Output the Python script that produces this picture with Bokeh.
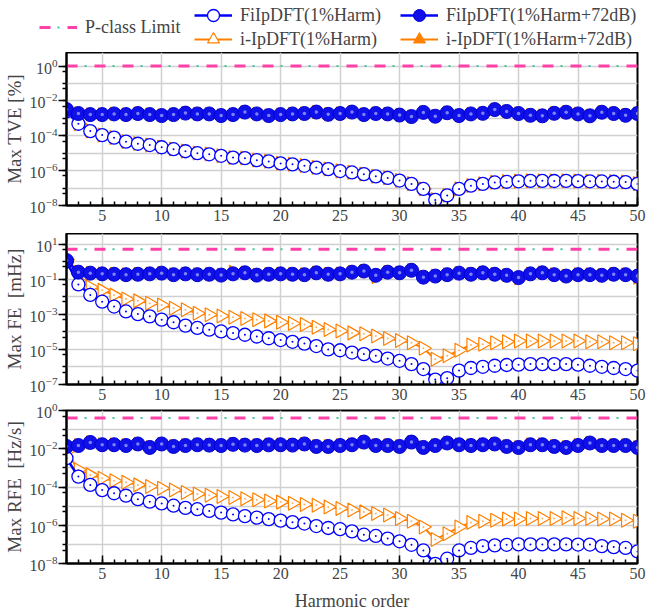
import math
from bokeh.plotting import figure
from bokeh.layouts import column
from bokeh.models import Range1d, FixedTicker, SingleIntervalTicker, Legend, LegendItem
from bokeh.embed import file_html
from bokeh.resources import INLINE

harmonics = list(range(2, 51))

# ---- Panel 1: Max TVE [%] ----
tve_fi = [2.5e-3, 4.9e-4, 1.86e-4, 1.1e-4, 7.8e-5, 4.6e-5, 3.5e-5, 2.95e-5, 2.2e-5, 1.7e-5,
          1.3e-5, 1.0e-5, 8.7e-6, 7.1e-6, 5.6e-6, 5.2e-6, 4.0e-6, 3.4e-6, 2.6e-6, 2.3e-6,
          1.9e-6, 1.5e-6, 1.23e-6, 9.5e-7, 7.9e-7, 6.3e-7, 4.7e-7, 3.8e-7, 2.7e-7, 1.74e-7,
          8.9e-8, 2.1e-8, 3.8e-8, 8.9e-8, 1.38e-7, 1.74e-7, 2.1e-7, 2.3e-7, 2.45e-7, 2.6e-7,
          2.6e-7, 2.55e-7, 2.6e-7, 2.5e-7, 2.45e-7, 2.4e-7, 2.3e-7, 2.2e-7, 1.74e-7]
tve_ip = [2.6e-3, 5.0e-4, 1.9e-4, 1.12e-4, 7.9e-5, 4.7e-5, 3.6e-5, 3.0e-5, 2.25e-5, 1.75e-5,
          1.32e-5, 1.02e-5, 8.9e-6, 7.2e-6, 5.7e-6, 5.3e-6, 4.1e-6, 3.5e-6, 2.65e-6, 2.35e-6,
          1.95e-6, 1.55e-6, 1.25e-6, 9.7e-7, 8.1e-7, 6.4e-7, 4.8e-7, 3.9e-7, 2.75e-7, 1.8e-7,
          9.1e-8, 2.2e-8, 3.9e-8, 9.1e-8, 1.4e-7, 1.78e-7, 2.15e-7, 2.35e-7, 2.5e-7, 2.65e-7,
          2.65e-7, 2.6e-7, 2.65e-7, 2.55e-7, 2.5e-7, 2.45e-7, 2.35e-7, 2.25e-7, 1.8e-7]
tve_fi72 = [3.2e-3, 1.9e-3, 1.65e-3, 1.65e-3, 1.8e-3, 1.65e-3, 1.9e-3, 1.65e-3, 1.45e-3, 1.65e-3,
            2.0e-3, 1.8e-3, 1.8e-3, 1.45e-3, 1.65e-3, 2.3e-3, 1.8e-3, 1.45e-3, 1.65e-3, 1.8e-3,
            1.9e-3, 2.3e-3, 1.7e-3, 1.9e-3, 2.3e-3, 1.65e-3, 1.9e-3, 1.8e-3, 1.55e-3, 1.27e-3,
            2.2e-3, 1.33e-3, 2.1e-3, 1.45e-3, 1.8e-3, 1.95e-3, 3.2e-3, 2.5e-3, 1.9e-3, 1.5e-3,
            1.4e-3, 1.95e-3, 2.25e-3, 1.8e-3, 1.4e-3, 2.25e-3, 1.9e-3, 1.5e-3, 1.9e-3]
tve_ip72 = [3.3e-3, 1.95e-3, 1.7e-3, 1.7e-3, 1.85e-3, 1.7e-3, 1.95e-3, 1.7e-3, 1.5e-3, 1.7e-3,
            2.05e-3, 1.85e-3, 1.85e-3, 1.5e-3, 1.7e-3, 2.35e-3, 1.85e-3, 1.5e-3, 1.7e-3, 1.85e-3,
            1.95e-3, 2.35e-3, 1.75e-3, 1.95e-3, 2.35e-3, 1.7e-3, 1.95e-3, 1.85e-3, 1.6e-3, 1.3e-3,
            2.25e-3, 1.38e-3, 2.15e-3, 1.5e-3, 1.85e-3, 2.0e-3, 3.3e-3, 2.55e-3, 1.95e-3, 1.55e-3,
            1.45e-3, 2.0e-3, 2.3e-3, 1.85e-3, 1.45e-3, 2.3e-3, 1.95e-3, 1.55e-3, 1.95e-3]

# ---- Panel 2: Max FE [mHz] ----
fe_fi = [1.0, 5.0e-2, 1.26e-2, 5.2e-3, 2.75e-3, 1.45e-3, 1.02e-3, 7.6e-4, 4.9e-4, 3.5e-4,
         2.24e-4, 1.66e-4, 1.32e-4, 1.05e-4, 8.5e-5, 6.8e-5, 5.4e-5, 4.3e-5, 3.4e-5, 2.7e-5,
         2.14e-5, 1.55e-5, 1.0e-5, 8.9e-6, 6.6e-6, 5.4e-6, 4.3e-6, 3.0e-6, 2.24e-6, 1.45e-6,
         7.6e-7, 1.9e-7, 2.3e-7, 6.2e-7, 8.7e-7, 1.02e-6, 1.17e-6, 1.29e-6, 1.35e-6, 1.45e-6,
         1.45e-6, 1.45e-6, 1.45e-6, 1.35e-6, 1.17e-6, 1.02e-6, 8.7e-7, 7.6e-7, 6.2e-7]
fe_ip = [1.3, 8.0e-2, 3.6e-2, 2.3e-2, 1.23e-2, 7.4e-3, 5.8e-3, 4.3e-3, 3.4e-3, 2.2e-3,
         1.8e-3, 1.15e-3, 9.5e-4, 7.9e-4, 6.8e-4, 5.8e-4, 4.9e-4, 4.2e-4, 3.5e-4, 3.0e-4,
         2.6e-4, 1.82e-4, 1.35e-4, 1.1e-4, 8.7e-5, 7.8e-5, 5.8e-5, 4.2e-5, 3.2e-5, 2.4e-5,
         1.15e-5, 2.75e-6, 4.3e-6, 8.9e-6, 1.78e-5, 1.95e-5, 2.4e-5, 2.75e-5, 3.0e-5, 3.0e-5,
         3.0e-5, 3.0e-5, 3.0e-5, 3.0e-5, 2.75e-5, 2.75e-5, 2.4e-5, 2.4e-5, 2.1e-5]
fe_fi72 = [1.15, 0.25, 0.22, 0.2, 0.19, 0.18, 0.19, 0.2, 0.22, 0.18,
           0.2, 0.18, 0.19, 0.17, 0.2, 0.23, 0.17, 0.19, 0.2, 0.19,
           0.18, 0.23, 0.19, 0.2, 0.25, 0.29, 0.166, 0.25, 0.23, 0.32,
           0.13, 0.15, 0.18, 0.22, 0.19, 0.23, 0.19, 0.166, 0.123, 0.2,
           0.23, 0.18, 0.15, 0.18, 0.18, 0.166, 0.19, 0.18, 0.15]
fe_ip72 = [1.4, 0.27, 0.23, 0.21, 0.2, 0.19, 0.2, 0.21, 0.23, 0.19,
           0.21, 0.19, 0.2, 0.18, 0.27, 0.24, 0.18, 0.2, 0.21, 0.2,
           0.19, 0.24, 0.2, 0.21, 0.26, 0.3, 0.13, 0.26, 0.24, 0.33,
           0.14, 0.16, 0.19, 0.23, 0.2, 0.24, 0.2, 0.17, 0.11, 0.21,
           0.24, 0.19, 0.16, 0.19, 0.19, 0.17, 0.2, 0.19, 0.12]

# ---- Panel 3: Max RFE [Hz/s] ----
rfe_fi = [3.2e-3, 3.5e-4, 1.29e-4, 6.9e-5, 4.7e-5, 3.5e-5, 2.3e-5, 1.7e-5, 1.38e-5, 1.05e-5,
          8.1e-6, 6.9e-6, 5.6e-6, 4.6e-6, 3.7e-6, 3.0e-6, 2.5e-6, 2.1e-6, 1.74e-6, 1.45e-6,
          1.23e-6, 9.1e-7, 7.2e-7, 6.2e-7, 4.8e-7, 3.2e-7, 2.75e-7, 2.0e-7, 1.45e-7, 9.5e-8,
          4.8e-8, 9.5e-9, 1.78e-8, 4.8e-8, 6.5e-8, 8.1e-8, 8.9e-8, 9.5e-8, 1.0e-7, 1.0e-7,
          1.0e-7, 1.0e-7, 1.0e-7, 9.8e-8, 9.8e-8, 8.1e-8, 7.2e-8, 6.5e-8, 4.3e-8]
rfe_ip = [7.2e-3, 7.9e-4, 4.3e-4, 2.9e-4, 2.1e-4, 1.78e-4, 1.29e-4, 1.05e-4, 8.5e-5, 6.9e-5,
          5.2e-5, 4.3e-5, 3.7e-5, 3.2e-5, 2.8e-5, 2.45e-5, 2.14e-5, 1.86e-5, 1.62e-5, 1.41e-5,
          1.23e-5, 1.12e-5, 9.1e-6, 7.6e-6, 6.2e-6, 5.0e-6, 4.1e-6, 3.4e-6, 2.24e-6, 1.62e-6,
          8.1e-7, 1.82e-7, 3.6e-7, 8.1e-7, 1.38e-6, 1.62e-6, 1.82e-6, 2.1e-6, 2.1e-6, 2.24e-6,
          2.24e-6, 2.24e-6, 2.45e-6, 2.24e-6, 2.24e-6, 2.1e-6, 2.1e-6, 1.82e-6, 1.62e-6]
rfe_fi72 = [1.32e-2, 1.48e-2, 2.14e-2, 1.62e-2, 1.62e-2, 1.48e-2, 1.78e-2, 1.17e-2, 1.78e-2, 1.32e-2,
            1.48e-2, 1.62e-2, 1.55e-2, 1.48e-2, 1.7e-2, 1.55e-2, 1.48e-2, 1.6e-2, 1.62e-2, 1.55e-2,
            1.78e-2, 1.32e-2, 1.32e-2, 1.48e-2, 1.62e-2, 2.24e-2, 1.48e-2, 1.48e-2, 1.32e-2, 2.24e-2,
            1.17e-2, 1.48e-2, 2.0e-2, 1.62e-2, 1.48e-2, 1.62e-2, 1.78e-2, 1.32e-2, 1.17e-2, 1.62e-2,
            1.62e-2, 1.32e-2, 1.17e-2, 1.48e-2, 2.0e-2, 1.48e-2, 1.48e-2, 1.48e-2, 1.17e-2]
rfe_ip72 = [1.4e-2, 1.55e-2, 2.2e-2, 1.7e-2, 1.7e-2, 1.55e-2, 1.85e-2, 1.22e-2, 1.85e-2, 1.38e-2,
            1.55e-2, 1.7e-2, 1.62e-2, 1.55e-2, 1.78e-2, 1.62e-2, 1.55e-2, 1.68e-2, 1.7e-2, 1.62e-2,
            1.85e-2, 1.38e-2, 1.38e-2, 1.55e-2, 1.7e-2, 2.3e-2, 1.55e-2, 1.55e-2, 1.38e-2, 2.3e-2,
            1.22e-2, 1.55e-2, 2.1e-2, 1.7e-2, 1.55e-2, 1.7e-2, 1.85e-2, 1.38e-2, 1.22e-2, 1.7e-2,
            1.7e-2, 1.38e-2, 1.22e-2, 1.55e-2, 2.1e-2, 1.55e-2, 1.55e-2, 1.55e-2, 1.22e-2]

# P-class limits
tve_limit = 1.0
fe_limit = 5.0
rfe_limit = 0.4

y_labels = ["Max TVE [%]", "Max FE \u00a0[mHz]", "Max RFE \u00a0[Hz/s]"]
x_label = "Harmonic order"
legend_labels = ["P-class Limit", "FiIpDFT(1%Harm)", "i-IpDFT(1%Harm)",
                 "FiIpDFT(1%Harm+72dB)", "i-IpDFT(1%Harm+72dB)"]

BLUE = "#0000ff"
ORANGE = "#ff8000"
PINK = "#ff40a8"
TEAL = "#3cc8a0"
SPHERE = "#1010e8"
HILITE = "#8890ff"
FONT = "Liberation Serif"
W = 646
LEFT = 65
RIGHT = 9


def draw_series(p, xs, fi, ip, fi72, ip72, limit_x, limit_y):
    r = {}
    r["pink"] = p.line(limit_x, limit_y, line_color=PINK, line_width=3, line_dash="11 17")
    r["teal"] = p.line(limit_x, limit_y, line_color=TEAL, line_width=2,
                       line_dash="2 26", line_dash_offset=-18)
    # i-IpDFT (1%Harm)
    r["lo1"] = p.line(xs, ip, line_color=ORANGE, line_width=2)
    r["mo1"] = p.scatter(xs, ip, marker="triangle", size=14, angle=-math.pi / 2,
                         fill_color="white", line_color=ORANGE, line_width=1.2)
    r["do1"] = p.scatter(xs, ip, marker="circle", size=2, fill_color="#ffb060", line_color=None)
    # i-IpDFT (1%Harm+72dB)
    r["lo2"] = p.line(xs, ip72, line_color=ORANGE, line_width=2)
    r["mo2"] = p.scatter(xs, ip72, marker="triangle", size=13, angle=-math.pi / 2,
                         fill_color=ORANGE, line_color=ORANGE, line_width=1)
    # FiIpDFT (1%Harm)
    r["lb1"] = p.line(xs, fi, line_color=BLUE, line_width=2.5)
    r["mb1"] = p.scatter(xs, fi, marker="circle", size=13, fill_color="white",
                         line_color=BLUE, line_width=1.3)
    r["db1"] = p.scatter(xs, fi, marker="circle", size=2, fill_color=BLUE, line_color=None)
    # FiIpDFT (1%Harm+72dB)
    r["lb2"] = p.line(xs, fi72, line_color=BLUE, line_width=2.5)
    r["mb2"] = p.scatter(xs, fi72, marker="circle", size=14, fill_color=SPHERE,
                         line_color="#0000d0", line_width=1)
    r["hb2"] = p.scatter(xs, fi72, marker="circle", size=3.5, fill_color=HILITE,
                         line_color=None, fill_alpha=0.9)
    return r


def make_panel(ylabel, ylo_exp, yhi, major_exps, fi, ip, fi72, ip72, limit,
               height, top, bottom, show_xlabel=False):
    p = figure(width=W, height=height,
               x_range=Range1d(harmonics[0], harmonics[-1]),
               y_range=Range1d(10.0 ** ylo_exp, yhi), y_axis_type="log",
               toolbar_location=None, output_backend="svg",
               min_border_left=LEFT, min_border_right=RIGHT,
               min_border_top=top, min_border_bottom=bottom)
    p.border_fill_alpha = 0
    p.background_fill_color = "white"
    p.outline_line_color = "black"
    p.outline_line_width = 2
    p.outline_line_alpha = 1

    decades = [10.0 ** e for e in range(ylo_exp, int(math.floor(math.log10(yhi))) + 1)]
    minors = decades + [0.5 * d for d in decades]

    ya = p.yaxis[0]
    ya.ticker = FixedTicker(ticks=[10.0 ** e for e in major_exps], minor_ticks=minors)
    ya.major_tick_out = 8
    ya.major_tick_in = 0
    ya.minor_tick_out = 4
    ya.minor_tick_in = 0
    ya.axis_line_width = 2
    ya.major_tick_line_width = 1.5
    ya.minor_tick_line_width = 1.5
    ya.major_label_text_font = FONT
    ya.major_label_text_font_size = "16px"
    ya.major_label_standoff = 1
    ya.axis_label = ylabel
    ya.axis_label_text_font = FONT
    ya.axis_label_text_font_size = "19px"
    ya.axis_label_text_font_style = "normal"
    ya.axis_label_standoff = 2

    xa = p.xaxis[0]
    xa.ticker = SingleIntervalTicker(interval=5, num_minor_ticks=5)
    xa.major_tick_in = 8
    xa.major_tick_out = 0
    xa.minor_tick_in = 4
    xa.minor_tick_out = 0
    xa.axis_line_width = 2
    xa.major_tick_line_width = 1.5
    xa.minor_tick_line_width = 1.5
    xa.major_label_text_font = FONT
    xa.major_label_text_font_size = "16px"
    xa.major_label_standoff = 4
    if show_xlabel:
        xa.axis_label = x_label
        xa.axis_label_text_font = FONT
        xa.axis_label_text_font_size = "18px"
        xa.axis_label_text_font_style = "normal"
        xa.axis_label_standoff = 9

    p.xgrid.grid_line_color = "#d0d0d0"
    p.xgrid.grid_line_width = 1.5
    p.ygrid.ticker = FixedTicker(ticks=decades)
    p.ygrid.grid_line_color = "#d0d0d0"
    p.ygrid.grid_line_width = 1.5

    lim_x = [harmonics[0], harmonics[-1]]
    draw_series(p, harmonics, fi, ip, fi72, ip72, lim_x, [limit, limit])
    return p


p1 = make_panel(y_labels[0], -8, 10 ** 0.78, [-8, -6, -4, -2, 0],
                tve_fi, tve_ip, tve_fi72, tve_ip72, tve_limit, 181, 0, 28)
p2 = make_panel(y_labels[1], -7, 10 ** 1.6, [-7, -5, -3, -1, 1],
                fe_fi, fe_ip, fe_fi72, fe_ip72, fe_limit, 177, 0, 26)
p3 = make_panel(y_labels[2], -8, 1.0, [-8, -6, -4, -2, 0],
                rfe_fi, rfe_ip, rfe_fi72, rfe_ip72, rfe_limit, 218, 12, 53,
                show_xlabel=True)
p3.margin = (-12, 0, 0, 0)

# ---- legend strip: its own frame covers the whole strip (no frame alignment) ----
LH = 52
leg = figure(width=W, height=LH, x_range=Range1d(-2, -1), y_range=Range1d(-2, -1),
             toolbar_location=None, output_backend="svg", min_border=0,
             x_axis_type=None, y_axis_type=None, frame_align=False)
leg.outline_line_color = None
leg.grid.visible = False
leg.border_fill_alpha = 0
leg.background_fill_alpha = 0
# legend glyph sources use the panel-1 data, which lies outside this strip's ranges
lr = draw_series(leg, harmonics, tve_fi, tve_ip, tve_fi72, tve_ip72,
                 [harmonics[0], harmonics[-1]], [tve_limit, tve_limit])


def mk_legend(label, renderers, x, y):
    lg = Legend(items=[LegendItem(label=label, renderers=renderers)], location=(x, y),
                orientation="vertical", glyph_width=38, glyph_height=30, label_height=30,
                label_standoff=8, spacing=0, padding=0, margin=0, border_line_alpha=0,
                background_fill_alpha=0, label_text_font=FONT,
                label_text_font_size="18px")
    leg.add_layout(lg)


ROW1 = LH - 30      # item centred at y = 14 px from the top
ROW2 = LH - 54      # item centred at y = 38 px from the top
MID = LH - 42       # item centred at y = 27 px from the top
mk_legend(legend_labels[0], [lr["pink"], lr["teal"]], 39, MID)
mk_legend(legend_labels[1], [lr["lb1"], lr["mb1"]], 194, ROW1)
mk_legend(legend_labels[2], [lr["lo1"], lr["mo1"]], 194, ROW2)
mk_legend(legend_labels[3], [lr["lb2"], lr["mb2"]], 400, ROW1)
mk_legend(legend_labels[4], [lr["lo2"], lr["mo2"]], 400, ROW2)

layout = column(leg, p1, p2, p3, spacing=0)
open("out.html", "w").write(file_html(layout, INLINE))
